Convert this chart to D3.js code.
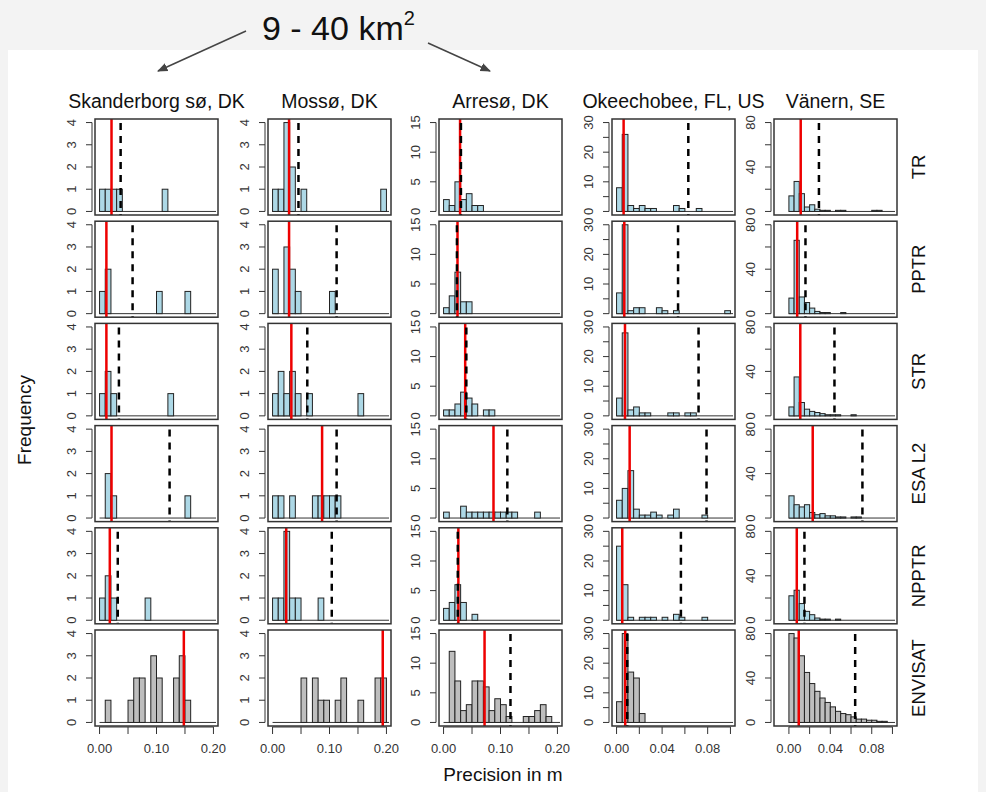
<!DOCTYPE html>
<html>
<head>
<meta charset="utf-8">
<script src="https://cdn.jsdelivr.net/npm/d3@7"></script>
<style>
  body { margin: 0; background: #f3f3f3; }
  svg { display: block; font-family: "Liberation Sans", Arial, sans-serif; }
</style>
</head>
<body>
<div id="chart"></div>
<script>
// Precision histograms: 5 lakes x 6 altimetry products

const lakes = ["Skanderborg sø, DK", "Mossø, DK", "Arresø, DK", "Okeechobee, FL, US", "Vänern, SE"];
const products = ["TR", "PPTR", "STR", "ESA L2", "NPPTR", "ENVISAT"];
const binWidths = [0.01, 0.01, 0.01, 0.005, 0.005];
const xLimits = [[0, 0.2], [0, 0.2], [0, 0.2], [0, 0.1], [-0.01, 0.1]];
const xTickValues = [
  [0, 0.05, 0.1, 0.15, 0.2], [0, 0.05, 0.1, 0.15, 0.2], [0, 0.05, 0.1, 0.15, 0.2],
  [0, 0.02, 0.04, 0.06, 0.08, 0.1], [0, 0.02, 0.04, 0.06, 0.08, 0.1]
];
const xTickLabels = [
  [0, 0.1, 0.2], [0, 0.1, 0.2], [0, 0.1, 0.2], [0, 0.04, 0.08], [0, 0.04, 0.08]
];
const yMax = [4, 4, 15, 30, 80];
const yTickValues = [[0, 1, 2, 3, 4], [0, 1, 2, 3, 4], [0, 5, 10, 15], [0, 5, 10, 15, 20, 25, 30], [0, 20, 40, 60, 80]];
const yTickLabels = [[0, 1, 2, 3, 4], [0, 1, 2, 3, 4], [0, 5, 10, 15], [0, 10, 20, 30], [0, 40, 80]];

// counts per bin (starting at 0), one row per product
const skanderborgCounts = [
  [1, 1, 1, 1, 0, 0, 0, 0, 0, 0, 0, 1],
  [1, 2, 0, 0, 0, 0, 0, 0, 0, 0, 1, 0, 0, 0, 0, 1],
  [1, 2, 1, 0, 0, 0, 0, 0, 0, 0, 0, 0, 1],
  [0, 2, 1, 0, 0, 0, 0, 0, 0, 0, 0, 0, 0, 0, 0, 1],
  [1, 2, 1, 0, 0, 0, 0, 0, 1],
  [0, 1, 0, 0, 0, 1, 2, 2, 0, 3, 2, 0, 0, 2, 3, 1]
];
const mossoCounts = [
  [1, 1, 4, 2, 0, 1, 0, 0, 0, 0, 0, 0, 0, 0, 0, 0, 0, 0, 0, 1],
  [2, 0, 3, 2, 1, 0, 0, 0, 0, 0, 1],
  [1, 2, 1, 2, 1, 0, 1, 0, 0, 0, 0, 0, 0, 0, 0, 1],
  [1, 1, 0, 1, 0, 0, 0, 1, 1, 1, 1, 1],
  [1, 1, 4, 1, 1, 0, 0, 0, 1],
  [0, 0, 0, 0, 0, 2, 0, 2, 1, 1, 0, 1, 2, 0, 0, 1, 0, 0, 2, 2]
];
const arresoCounts = [
  [2, 1, 5, 2, 3, 1, 1],
  [1, 3, 7, 2, 2],
  [1, 1, 2, 4, 3, 2, 0, 1, 1],
  [1, 0, 0, 2, 1, 1, 1, 1, 1, 1, 1, 1, 1, 0, 0, 0, 1],
  [2, 3, 6, 3, 0, 1],
  [0, 12, 7, 2, 3, 7, 7, 6, 2, 4, 3, 1, 0, 0, 1, 1, 2, 3, 1]
];
const okeechobeeCounts = [
  [8, 26, 2, 1, 2, 1, 1, 0, 0, 0, 2, 1, 0, 0, 1],
  [7, 30, 1, 2, 2, 0, 0, 2, 1, 0, 1, 0, 0, 0, 0, 0, 0, 0, 0, 1],
  [6, 28, 2, 3, 1, 1, 0, 0, 0, 1, 1, 0, 1, 1],
  [6, 10, 16, 3, 1, 1, 2, 1, 0, 1, 3, 0, 0, 0, 0, 1],
  [25, 12, 1, 0, 1, 1, 1, 0, 1, 0, 2, 1, 0, 0, 0, 1],
  [7, 30, 17, 15, 3]
];
const vanernCounts = [
  [14, 27, 16, 4, 6, 2, 1, 1, 0, 1, 1, 0, 0, 0, 0, 0, 1, 1],
  [14, 66, 15, 10, 5, 2, 1, 1, 0, 0, 1],
  [8, 35, 12, 6, 4, 3, 2, 1, 1, 1, 0, 0, 1],
  [20, 12, 10, 12, 5, 3, 4, 2, 2, 1, 1, 0, 1, 1],
  [22, 27, 15, 8, 5, 2, 1, 1, 0, 1],
  [80, 76, 60, 45, 35, 28, 22, 18, 14, 10, 8, 7, 5, 3, 3, 2, 2, 1, 1]
];
const allCounts = [skanderborgCounts, mossoCounts, arresoCounts, okeechobeeCounts, vanernCounts];

// red solid line and black dashed line positions (m)
const redLines = [
  [0.021, 0.012, 0.012, 0.021, 0.018, 0.148],
  [0.029, 0.029, 0.033, 0.087, 0.024, 0.1935],
  [0.029, 0.0245, 0.038, 0.0877, 0.026, 0.072],
  [0.0062, 0.0068, 0.0074, 0.0115, 0.005, 0.0076],
  [0.0114, 0.008, 0.011, 0.023, 0.0076, 0.0095]
];
const dashLines = [
  [0.037, 0.058, 0.034, 0.123, 0.032, null],
  [0.0455, 0.1125, 0.061, 0.1125, 0.104, null],
  [0.0305, 0.0235, 0.040, 0.112, 0.025, 0.1175],
  [0.063, 0.054, 0.072, 0.079, 0.0565, 0.0094],
  [0.029, 0.016, 0.044, 0.071, 0.015, 0.064]
];

const W = 986, H = 792;
const colX = [95, 268, 439, 612, 774];
const panelW = 123, panelH = 96;
const rowY0 = 119, rowStep = 102.2;

const svg = d3.select("#chart").append("svg").attr("width", W).attr("height", H);

svg.append("defs").append("marker")
  .attr("id", "arrow")
  .attr("viewBox", "0 0 10 10")
  .attr("refX", 9).attr("refY", 5)
  .attr("markerWidth", 7).attr("markerHeight", 7)
  .attr("orient", "auto")
  .append("path").attr("d", "M0,1 L10,5 L0,9 Z").attr("fill", "#444");

svg.append("rect").attr("x", 8).attr("y", 50).attr("width", 970).attr("height", 742).attr("fill", "#fff");

// header annotation
const head = svg.append("text").attr("x", 262).attr("y", 40).attr("font-size", 34).attr("fill", "#111");
head.append("tspan").text("9 - 40 km");
head.append("tspan").attr("font-size", 20).attr("dy", -15).text("2");
svg.append("line").attr("x1", 246).attr("y1", 31).attr("x2", 158).attr("y2", 71)
  .attr("stroke", "#444").attr("stroke-width", 1.5).attr("marker-end", "url(#arrow)");
svg.append("line").attr("x1", 428).attr("y1", 43).attr("x2", 490).attr("y2", 71)
  .attr("stroke", "#444").attr("stroke-width", 1.5).attr("marker-end", "url(#arrow)");

lakes.forEach((lake, c) => {
  const lim = xLimits[c];
  const ext = (lim[1] - lim[0]) * 0.04;
  const x = d3.scaleLinear().domain([lim[0] - ext, lim[1] + ext]).range([colX[c], colX[c] + panelW]);

  svg.append("text")
    .attr("x", colX[c] + panelW / 2).attr("y", 108)
    .attr("text-anchor", "middle").attr("font-size", 19.5).attr("fill", "#111")
    .text(lake);

  products.forEach((prod, r) => {
    const top = rowY0 + r * rowStep;
    const yext = yMax[c] * 0.04;
    const y = d3.scaleLinear().domain([-yext, yMax[c] + yext]).range([top + panelH, top]);
    const g = svg.append("g");
    const clipId = `clip-${c}-${r}`;
    g.append("clipPath").attr("id", clipId).append("rect")
      .attr("x", colX[c]).attr("y", top).attr("width", panelW).attr("height", panelH);

    const bw = binWidths[c];
    const bins = allCounts[c][r].map((n, i) => ({ x0: i * bw, x1: (i + 1) * bw, n }));
    const plot = g.append("g").attr("clip-path", `url(#${clipId})`);

    // zero baseline from empty bins
    plot.append("line")
      .attr("x1", x(0)).attr("x2", colX[c] + panelW - 2)
      .attr("y1", y(0)).attr("y2", y(0))
      .attr("stroke", "#333").attr("stroke-width", 1);

    plot.selectAll(".bar")
      .data(bins.filter(d => d.n > 0))
      .enter().append("rect")
      .attr("x", d => x(d.x0))
      .attr("width", d => x(d.x1) - x(d.x0))
      .attr("y", d => y(d.n))
      .attr("height", d => y(0) - y(d.n))
      .attr("fill", r === 5 ? "#bebebe" : "#add8e6")
      .attr("stroke", "#222").attr("stroke-width", 1);

    plot.append("line")
      .attr("x1", x(redLines[c][r])).attr("x2", x(redLines[c][r]))
      .attr("y1", top).attr("y2", top + panelH)
      .attr("stroke", "#ee0000").attr("stroke-width", 2.5);

    if (dashLines[c][r] != null) {
      plot.append("line")
        .attr("x1", x(dashLines[c][r])).attr("x2", x(dashLines[c][r]))
        .attr("y1", top + 4).attr("y2", top + panelH)
        .attr("stroke", "#000").attr("stroke-width", 2.5)
        .attr("stroke-dasharray", "7,6");
    }

    g.append("rect")
      .attr("x", colX[c]).attr("y", top).attr("width", panelW).attr("height", panelH)
      .attr("fill", "none").attr("stroke", "#333").attr("stroke-width", 1.5);

    // y axis, R style
    const ax = colX[c] - 3;
    const yt = yTickValues[c];
    g.append("line")
      .attr("x1", ax).attr("x2", ax)
      .attr("y1", y(yt[0])).attr("y2", y(yt[yt.length - 1]))
      .attr("stroke", "#333");
    g.selectAll(".ytick").data(yt).enter().append("line")
      .attr("x1", ax).attr("x2", ax - 6)
      .attr("y1", d => y(d)).attr("y2", d => y(d))
      .attr("stroke", "#333");
    g.selectAll(".ylab").data(yTickLabels[c]).enter().append("text")
      .attr("transform", d => `translate(${colX[c] - 24},${y(d)}) rotate(-90)`)
      .attr("text-anchor", "middle").attr("dominant-baseline", "central")
      .attr("font-size", 13).attr("fill", "#333")
      .text(d => d);

    if (c === lakes.length - 1) {
      svg.append("text")
        .attr("transform", `translate(918,${top + panelH / 2}) rotate(-90)`)
        .attr("text-anchor", "middle").attr("dominant-baseline", "central")
        .attr("font-size", 18.5).attr("fill", "#111")
        .text(prod);
    }

    if (r === products.length - 1) {
      const xt = xTickValues[c];
      const by = top + panelH + 1;
      g.append("line")
        .attr("x1", x(xt[0])).attr("x2", x(xt[xt.length - 1]))
        .attr("y1", by).attr("y2", by).attr("stroke", "#333");
      g.selectAll(".xtick").data(xt).enter().append("line")
        .attr("x1", d => x(d)).attr("x2", d => x(d))
        .attr("y1", by).attr("y2", by + 7).attr("stroke", "#333");
      g.selectAll(".xlab").data(xTickLabels[c]).enter().append("text")
        .attr("x", d => x(d)).attr("y", by + 26)
        .attr("text-anchor", "middle").attr("font-size", 13).attr("fill", "#333")
        .text(d => d3.format(".2f")(d));
    }
  });
});

svg.append("text")
  .attr("transform", "translate(24,420) rotate(-90)")
  .attr("text-anchor", "middle").attr("dominant-baseline", "central")
  .attr("font-size", 19).attr("fill", "#111")
  .text("Frequency");

svg.append("text")
  .attr("x", 503).attr("y", 781)
  .attr("text-anchor", "middle").attr("font-size", 19).attr("fill", "#111")
  .text("Precision in m");
</script>
</body>
</html>
